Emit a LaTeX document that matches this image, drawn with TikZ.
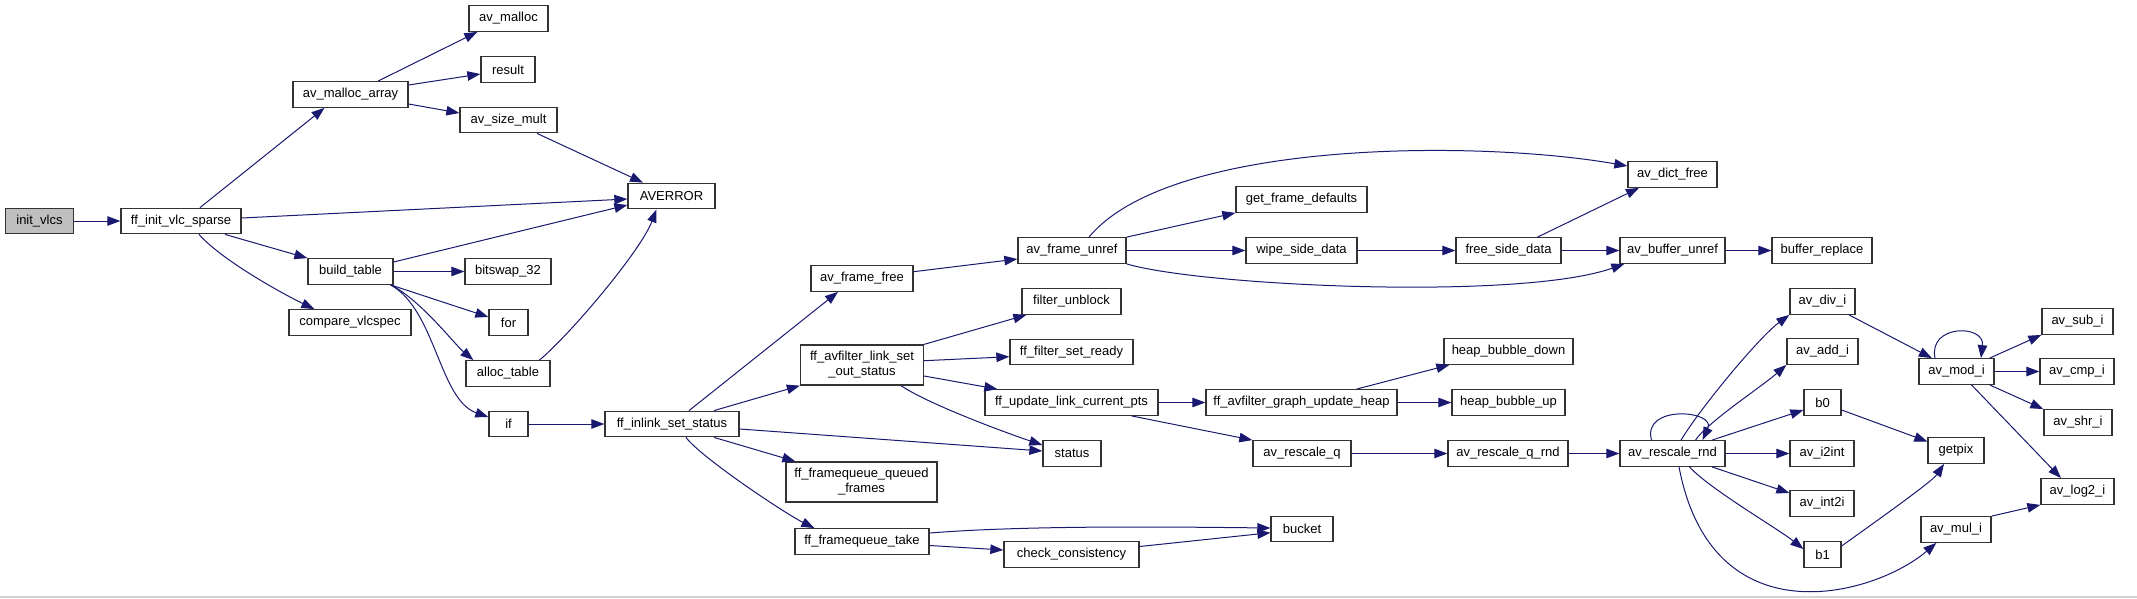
\documentclass[tikz,border=0pt]{standalone}
\usepackage{fontspec}
\setmainfont{Liberation Sans}
\usetikzlibrary{arrows.meta}
\definecolor{edgec}{HTML}{191970}
\definecolor{bordc}{HTML}{333333}
\definecolor{curc}{HTML}{BFBFBF}
\begin{document}
\begin{tikzpicture}[x=1pt,y=-1pt,
 fn/.style={draw=bordc, line width=1.3pt, fill=white, inner sep=0pt, minimum height=25.5pt, font=\fontsize{13}{15}\selectfont, align=center},
 fntwo/.style={fn, minimum height=40pt},
 cur/.style={fn, fill=curc},
 e/.style={draw=edgec, line width=1pt, -{Triangle[length=13pt,width=9.5pt]}}
]
\useasboundingbox (0,0) rectangle (2137,598);
\fill[white] (0,0) rectangle (2137,598);
\fill[gray!35] (0,596) rectangle (2137,598);

% nodes
\node[cur, minimum width=68pt] (initvlcs) at (39.5,221) {init\_vlcs};
\node[fn, minimum width=120pt] (ffinit) at (181,221) {ff\_init\_vlc\_sparse};
\node[fn, minimum width=115pt] (ama) at (350.5,94.5) {av\_malloc\_array};
\node[fn, minimum width=79pt] (avmalloc) at (508.5,18.5) {av\_malloc};
\node[fn, minimum width=54pt] (result) at (508,69.5) {result};
\node[fn, minimum width=97pt] (asm) at (508.5,120) {av\_size\_mult};
\node[fn, minimum width=87pt] (averror) at (671.5,196) {AVERROR};
\node[fn, minimum width=85pt] (bt) at (350.5,271.5) {build\_table};
\node[fn, minimum width=86pt] (bitswap) at (508,271.5) {bitswap\_32};
\node[fn, minimum width=122pt] (compare) at (350,322.5) {compare\_vlcspec};
\node[fn, minimum width=39pt] (for) at (508.5,322.5) {for};
\node[fn, minimum width=84pt] (alloc) at (508,373.5) {alloc\_table};
\node[fn, minimum width=39pt] (if) at (508.5,424) {if};
\node[fn, minimum width=134pt] (inlink) at (672,424) {ff\_inlink\_set\_status};
\node[fn, minimum width=102pt] (fafree) at (862,278.5) {av\_frame\_free};
\node[fntwo, minimum width=123pt] (flso) at (862,365) {ff\_avfilter\_link\_set\\\_out\_status};
\node[fntwo, minimum width=151pt] (fqq) at (861.5,482) {ff\_framequeue\_queued\\\_frames};
\node[fn, minimum width=134pt] (fqtake) at (862,541.5) {ff\_framequeue\_take};
\node[fn, minimum width=108pt] (unref) at (1072,250.5) {av\_frame\_unref};
\node[fn, minimum width=99pt] (funblock) at (1071.5,301.5) {filter\_unblock};
\node[fn, minimum width=123pt] (fsr) at (1071.5,352) {ff\_filter\_set\_ready};
\node[fn, minimum width=173pt] (fulcp) at (1071.5,402.5) {ff\_update\_link\_current\_pts};
\node[fn, minimum width=58pt] (status) at (1072,453.5) {status};
\node[fn, minimum width=135pt] (cc) at (1071.5,554.5) {check\_consistency};
\node[fn, minimum width=131pt] (gfd) at (1301.5,199.5) {get\_frame\_defaults};
\node[fn, minimum width=111pt] (wsd) at (1301.5,250.5) {wipe\_side\_data};
\node[fn, minimum width=191pt] (heap) at (1301.5,402.5) {ff\_avfilter\_graph\_update\_heap};
\node[fn, minimum width=98pt] (rq) at (1302,453.5) {av\_rescale\_q};
\node[fn, minimum width=62pt] (bucket) at (1302,529) {bucket};
\node[fn, minimum width=89pt] (dict) at (1672.5,174.5) {av\_dict\_free};
\node[fn, minimum width=105pt] (fsd) at (1508.5,250.5) {free\_side\_data};
\node[fn, minimum width=105pt] (bufunref) at (1672.5,250.5) {av\_buffer\_unref};
\node[fn, minimum width=100pt] (bufrep) at (1822,250.5) {buffer\_replace};
\node[fn, minimum width=129pt] (hbd) at (1508.5,351.5) {heap\_bubble\_down};
\node[fn, minimum width=113pt] (hbu) at (1508.5,402.5) {heap\_bubble\_up};
\node[fn, minimum width=120pt] (rqr) at (1508,453.5) {av\_rescale\_q\_rnd};
\node[fn, minimum width=105pt] (rnd) at (1672.5,453.5) {av\_rescale\_rnd};
\node[fn, minimum width=65pt] (divi) at (1822.5,301.5) {av\_div\_i};
\node[fn, minimum width=71pt] (addi) at (1822.5,351.5) {av\_add\_i};
\node[fn, minimum width=37pt] (b0) at (1822.5,402.5) {b0};
\node[fn, minimum width=64pt] (i2int) at (1822,453.5) {av\_i2int};
\node[fn, minimum width=64pt] (int2i) at (1822,503.5) {av\_int2i};
\node[fn, minimum width=37pt] (b1) at (1822.5,554.5) {b1};
\node[fn, minimum width=75pt] (modi) at (1956.5,371.5) {av\_mod\_i};
\node[fn, minimum width=56pt] (getpix) at (1956,450.5) {getpix};
\node[fn, minimum width=70pt] (mul) at (1956,529.5) {av\_mul\_i};
\node[fn, minimum width=71pt] (subi) at (2077.5,321.5) {av\_sub\_i};
\node[fn, minimum width=74pt] (cmpi) at (2077,371.5) {av\_cmp\_i};
\node[fn, minimum width=68pt] (shri) at (2078,422.5) {av\_shr\_i};
\node[fn, minimum width=73pt] (log2) at (2077.5,491.5) {av\_log2\_i};

% edges
\draw[e] (initvlcs.east) -- (ffinit.west);
\draw[e] ([xshift=19pt]ffinit.north) -- ([xshift=-26pt]ama.south);
\draw[e] ([yshift=3pt]ffinit.east) -- ([yshift=-3pt]averror.west);
\draw[e] ([xshift=44pt]ffinit.south) -- (bt.north west);
\draw[e] ([xshift=18pt]ffinit.south) .. controls +(25,28) and +(-25,-12) .. ([xshift=26pt]compare.north west);
\draw[e] ([xshift=27.5pt]ama.north) -- ([xshift=9pt]avmalloc.south west);
\draw[e] ([yshift=9.5pt]ama.east) -- ([yshift=-4.5pt]result.west);
\draw[e] ([yshift=-9.5pt]ama.east) -- ([yshift=7pt]asm.west);
\draw[e] ([xshift=28.5pt]asm.south) -- ([xshift=-28.5pt]averror.north);
\draw[e] ([yshift=9.5pt]bt.east) -- ([yshift=-9pt]averror.west);
\draw[e] (bt.east) -- (bitswap.west);
\draw[e] ([xshift=-3pt]bt.south east) -- ([yshift=5.5pt]for.west);
\draw[e] ([xshift=-3pt]bt.south east) .. controls +(30,15) and +(-19,-16) .. ([xshift=8pt]alloc.north west);
\draw[e] ([xshift=-3pt]bt.south east) .. controls +(45,25) and +(-49,-17) .. ([yshift=7pt]if.west);
\draw[e] ([xshift=31.5pt]alloc.north) .. controls +(30,-25) and +(-16,42) .. ([xshift=-15pt]averror.south);
\draw[e] (if.east) -- (inlink.west);
\draw[e] ([xshift=17pt]inlink.north) -- ([xshift=-24pt]fafree.south);
\draw[e] ([xshift=42pt]inlink.north) -- (flso.south west);
\draw[e] ([yshift=-5pt]inlink.east) -- ([yshift=2.5pt]status.west);
\draw[e] ([xshift=42pt]inlink.south) -- ([xshift=10pt]fqq.north west);
\draw[e] ([xshift=14pt]inlink.south) .. controls +(15,20) and +(-30,-15) .. ([xshift=20pt]fqtake.north west);
\draw[e] ([yshift=6.8pt]fafree.east) -- ([yshift=-8.5pt]unref.west);
\draw[e] (flso.north east) -- ([xshift=5pt]funblock.south west);
\draw[e] ([yshift=4.3pt]flso.east) -- ([yshift=-4.7pt]fsr.west);
\draw[e] ([yshift=-11pt]flso.east) -- ([xshift=13pt]fulcp.north west);
\draw[e] ([xshift=39pt]flso.south) .. controls +(30,20) and +(-30,-10) .. ([yshift=8.5pt]status.west);
\draw[e] ([yshift=8.5pt]fqtake.east) .. controls +(100,-8) and +(-90,-1) .. ([yshift=1pt]bucket.west);
\draw[e] ([yshift=-4pt]fqtake.east) -- ([yshift=4.5pt]cc.west);
\draw[e] ([yshift=8pt]cc.east) -- ([yshift=-3.7pt]bucket.west);
\draw[e] ([xshift=17pt]unref.north) .. controls +(81,-98) and +(-148,-26) .. ([yshift=8.5pt]dict.west);
\draw[e] (unref.north east) -- (gfd.south west);
\draw[e] (unref.east) -- (wsd.west);
\draw[e] (unref.south east) .. controls +(74,22) and +(-105,37) .. ([xshift=5pt]bufunref.south west);
\draw[e] (wsd.east) -- (fsd.west);
\draw[e] ([xshift=29pt]fsd.north) -- ([xshift=-33.5pt]dict.south);
\draw[e] (fsd.east) -- (bufunref.west);
\draw[e] (bufunref.east) -- (bufrep.west);
\draw[e] (fulcp.east) -- (heap.west);
\draw[e] ([xshift=60pt]fulcp.south) -- (rq.north west);
\draw[e] ([xshift=55pt]heap.north) -- ([xshift=6pt]hbd.south west);
\draw[e] (heap.east) -- (hbu.west);
\draw[e] (rq.east) -- (rqr.west);
\draw[e] (rqr.east) -- (rnd.west);
\draw[e] ([xshift=-21pt]rnd.north) .. controls +(-10,-36) and +(14,-30) .. ([xshift=30pt]rnd.north);
\draw[e] ([xshift=8.5pt]rnd.north) .. controls +(20,-33) and +(-30,22) .. (divi.south west);
\draw[e] ([xshift=23pt]rnd.north) .. controls +(12,-18) and +(-25,22) .. (addi.south west);
\draw[e] ([xshift=39.5pt]rnd.north) -- ([yshift=-7.5pt]b0.west);
\draw[e] (rnd.east) -- (i2int.west);
\draw[e] ([xshift=39.5pt]rnd.south) -- ([yshift=10.5pt]int2i.west);
\draw[e] ([xshift=17pt]rnd.south) .. controls +(20,22) and +(-25,-20) .. ([yshift=5.5pt]b1.west);
\draw[e] ([xshift=6.5pt]rnd.south) .. controls +(33,174) and +(-62,53) .. ([xshift=16pt]mul.south west);
\draw[e] ([xshift=26.5pt]divi.south) -- ([xshift=13.5pt]modi.north west);
\draw[e] ([xshift=-21.5pt]modi.north) .. controls +(-7,-34) and +(4,-34) .. ([xshift=24.5pt]modi.north);
\draw[e] ([xshift=-5pt]modi.north east) -- (subi.south west);
\draw[e] (modi.east) -- (cmpi.west);
\draw[e] ([xshift=-5pt]modi.south east) -- (shri.north west);
\draw[e] ([xshift=15pt]modi.south) -- ([xshift=-16.5pt]log2.north);
\draw[e] ([yshift=-7.5pt]b0.east) -- ([yshift=9pt]getpix.west);
\draw[e] ([yshift=8.5pt]b1.east) .. controls +(25,-18) and +(-12,18) .. ([xshift=-12pt]getpix.south);
\draw[e] (mul.north east) -- (log2.south west);
\end{tikzpicture}
\end{document}
